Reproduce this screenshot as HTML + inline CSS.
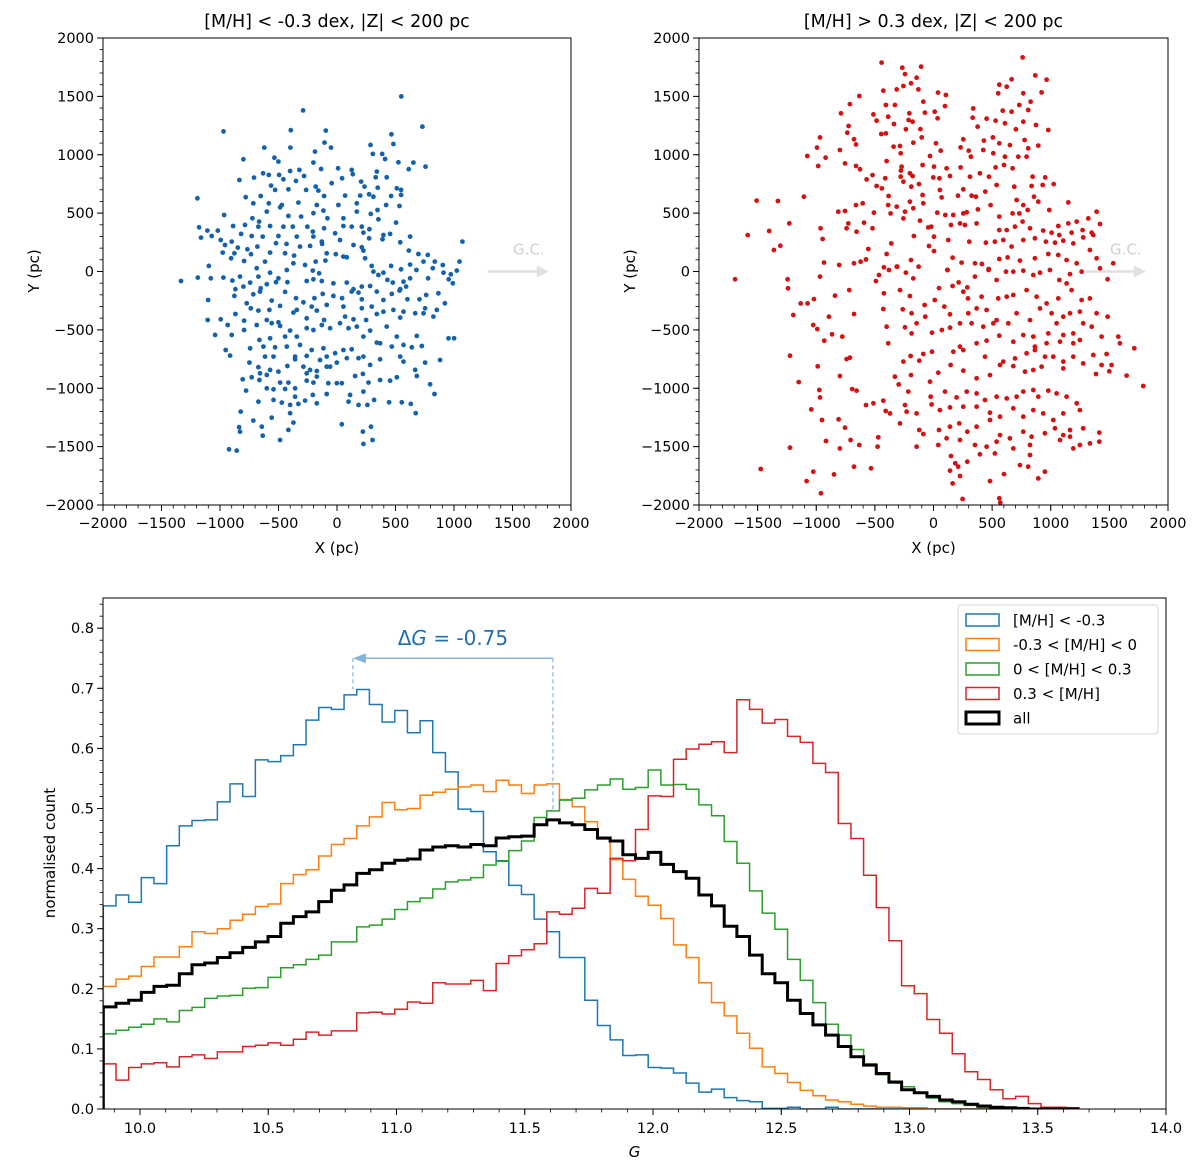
<!DOCTYPE html>
<html><head><meta charset="utf-8"><title>Metallicity maps and G histograms</title>
<style>
html,body{margin:0;padding:0;background:#fff;}
svg{display:block;font-family:"DejaVu Sans","Liberation Sans",sans-serif;}
</style></head>
<body>
<svg id="fig" width="1200" height="1167" viewBox="0 0 1200 1167" xmlns="http://www.w3.org/2000/svg">
<rect width="1200" height="1167" fill="#fff"/>
<g id="p1"></g>
<g id="p2"></g>
<g id="p3"></g>
</svg>
<script>
// ---------- scatter data (X, Y in pc) ----------
const bluePts = [[550,1500],[-290,1380],[730,1240],[-970,1200],[-395,1210],[-96,1207],[465,1175],[-107,1104],[286,1084],[482,1092],[-621,1061],[-398,1061],[-51,1061],[-188,1027],[306,1007],[386,1007],
[-800,961],[-535,975],[-202,933],[411,964],[525,935],[653,933],[756,898],[613,876],[-501,941],[-136,878],[9,884],[126,870],[-321,870],[-401,861],[340,856],
[-834,784],[-709,804],[-632,841],[-583,827],[-495,827],[-458,790],[-350,776],[-281,818],[-45,756],[44,798],[135,833],[206,770],[331,807],[425,807],[-563,736],[-182,727],[235,727],[348,718],[511,713],[548,699],
[-1193,627],[-780,636],[-652,647],[-529,699],[-415,704],[-264,699],[-159,693],[-110,647],[69,650],[198,650],[274,661],[311,641],[462,647],[548,656],[-715,584],[-583,584],[-472,570],[-330,590],[-173,570],[12,570],[169,584],[420,570],[534,561],
[-965,484],[-723,456],[-600,513],[-486,550],[-415,476],[-307,470],[-202,499],[-82,456],[55,456],[169,513],[289,493],[346,527],[505,419],[354,447],[-666,427],[-116,522],
[-1179,379],[-1108,350],[-1019,350],[-888,390],[-786,399],[-672,384],[-572,390],[-458,384],[-378,384],[-253,384],[-207,342],[-110,370],[-16,327],[55,390],[126,384],[212,384],[277,362],[397,313],[454,322],[226,333],[-1071,304],[-1162,290],[-820,322],[-729,304],[-635,299],[-501,304],[-344,299],[-202,299],[-130,256],[26,270],[274,284],[625,299],
[-994,270],[-900,256],[-957,227],[-848,205],[-766,190],[-680,213],[-521,242],[-432,236],[-316,213],[-230,219],[-127,236],[141,227],[212,207],[389,276],[540,250],[1072,256],[-977,162],[-877,156],[-735,148],[-572,162],[-444,156],[-367,136],[-88,156],[-10,148],[55,128],[226,179],[614,179],[696,150],[776,142],
[-905,113],[-794,90],[-615,85],[-373,70],[-273,56],[-182,85],[-99,93],[84,122],[240,113],[297,48],[462,48],[625,59],[739,85],[836,85],[904,56],[1047,85],[-1096,48],[-686,28],[-429,13],[-207,8],[-153,-15],[311,-1],[397,-10],[548,19],[679,13],[819,28],[910,-10],[973,-24],
[-1333,-81],[-1190,-52],[-1079,-58],[-971,-52],[-894,-78],[-829,-44],[-743,-95],[-672,-44],[-572,-10],[-501,-58],[-424,-92],[-259,-81],[-130,-81],[-202,-67],[84,-95],[212,-129],[354,-30],[431,-72],[477,-95],[568,-87],[625,-58],[779,-58],[955,-67],[1024,8],[990,-101],[-868,-152],[-800,-129],[-652,-144],[-600,-109],[-521,-92],[-31,-101],[141,-152],[283,-124],[540,-152],[591,-129],
[-1102,-244],[-877,-209],[-772,-272],[-715,-195],[-658,-172],[-558,-249],[-444,-175],[-350,-229],[-287,-264],[-193,-229],[-122,-192],[-31,-209],[44,-229],[126,-172],[184,-181],[212,-238],[340,-172],[397,-244],[468,-192],[534,-164],[602,-238],[705,-238],[762,-201],[867,-187],[922,-272],[-737,-315],[-578,-329],[-486,-295],[-344,-329],[-216,-301],[-88,-286],[55,-301],[212,-315],[297,-301],[397,-344],[482,-329],[568,-344],[668,-358],[753,-315],[853,-329],
[-1105,-415],[-994,-409],[-868,-364],[-794,-421],[-672,-335],[-600,-415],[-501,-435],[-373,-352],[-259,-401],[-173,-335],[-110,-415],[69,-386],[141,-409],[249,-415],[340,-364],[540,-395],[739,-358],[824,-386],
[-1042,-543],[-934,-458],[-900,-543],[-794,-501],[-686,-458],[-558,-443],[-486,-466],[-401,-506],[-344,-558],[-259,-486],[-202,-501],[-130,-458],[-59,-486],[26,-443],[98,-486],[169,-472],[283,-506],[425,-472],[511,-558],[682,-552],[953,-572],[1001,-572],[-663,-586],[-572,-572],[-444,-558],[226,-558],[340,-609],
[-951,-672],[-914,-720],[-743,-658],[-629,-643],[-529,-649],[-429,-643],[-316,-629],[-216,-672],[-116,-658],[-16,-700],[55,-672],[126,-666],[226,-729],[368,-615],[468,-643],[568,-629],[639,-649],[725,-638],[-615,-729],[-543,-729],[-358,-729],[-259,-723],[-88,-729],[540,-729],[881,-758],
[-749,-780],[-672,-820],[-572,-843],[-501,-857],[-424,-809],[-358,-752],[-287,-815],[-230,-843],[-145,-758],[-59,-815],[-2,-780],[84,-743],[184,-743],[283,-800],[368,-752],[568,-772],[668,-843],[753,-780],[-729,-906],[-658,-872],[-600,-886],[-259,-872],[-173,-852],[-88,-815],
[-806,-923],[-663,-929],[-486,-952],[-415,-952],[-259,-935],[-202,-952],[-173,-900],[-74,-957],[-2,-957],[41,-957],[155,-895],[221,-877],[269,-952],[368,-929],[454,-935],[511,-906],[682,-895],[796,-966],[-777,-1020],[-600,-1000],[-543,-1009],[-444,-1006],[-358,-1000],
[-358,-1072],[-273,-1106],[-207,-1057],[-88,-1049],[112,-1057],[226,-1029],[317,-1100],[445,-1120],[554,-1120],[631,-1134],[833,-1049],[-672,-1115],[-543,-1100],[-472,-1123],[-401,-1143],[-330,-1134],[-173,-1129],[98,-1115],[184,-1143],[260,-1143],
[-823,-1200],[-401,-1214],[673,-1214],[-715,-1277],[-558,-1252],[-373,-1294],[-837,-1334],[-643,-1329],[-415,-1357],[41,-1309],[221,-1372],[291,-1329],[-829,-1372],[-635,-1406],[-486,-1443],[226,-1477],[303,-1443],[-923,-1523],[-857,-1534]];

const redPts = [[760,1834],[-443,1789],[-266,1746],[-106,1754],[-243,1691],[-144,1660],[868,1680],[965,1643],[-192,1612],[-257,1589],[561,1600],[624,1583],[666,1646],
[-428,1549],[-314,1560],[-129,1560],[38,1532],[106,1512],[-633,1503],[-713,1434],[-406,1426],[-329,1426],[-87,1454],[98,1417],[766,1526],[828,1454],[922,1534],[552,1526],[732,1426],[-789,1355],[-513,1346],[-386,1326],[-206,1355],[-73,1360],[10,1369],[339,1397],[590,1377],[666,1369],[808,1383],[-212,1298],
[-724,1246],[-485,1292],[-337,1263],[-178,1283],[35,1312],[-112,1220],[334,1317],[453,1309],[530,1292],[609,1269],[376,1240],[703,1218],[979,1212],[874,1255],[766,1283],[-968,1149],[-735,1189],[-445,1178],[-406,1183],[-235,1218],[-678,1132],[-994,1061],[-1076,989],[-920,975],[-798,1041],[-661,1089],[-340,1069],[-286,1075],[-172,1103],[-101,1149],[21,1098],[254,1132],[300,1035],[430,1121],[507,1149],[561,1098],[652,1083],[777,1126],[808,1055],[894,1078],
[-983,904],[-755,926],[-661,904],[-627,875],[-400,946],[-280,1012],[-272,898],[-30,989],[61,1035],[-93,912],[4,898],[112,884],[231,1063],[319,983],[425,1041],[510,1012],[609,983],[723,983],[794,983],[-571,789],[-520,826],[-412,798],[-278,864],[-201,841],[-280,812],[-257,769],[-178,818],[-124,749],[-2,806],[50,798],[141,818],[231,892],[311,812],[396,841],[473,812],[530,892],[601,912],[675,884],[845,812],[953,806],
[-485,732],[-440,712],[-383,647],[-189,726],[-93,655],[55,698],[254,704],[325,649],[362,641],[442,684],[538,741],[689,726],[837,732],[931,741],[1025,749],[-1105,641],[-1327,604],[-1509,607],[-661,569],[-604,584],[-386,569],[-314,555],[-201,598],[-87,584],[69,635],[209,649],[379,532],[487,569],[709,612],[766,569],[857,641],[894,598],[1150,592],[-812,512],[-755,518],[-508,504],[-366,498],[-243,512],[-172,541],[32,504],[169,484],[254,498],[283,507],[561,470],[675,498],[732,498],[803,527],[988,527],
[-1230,412],[-1401,347],[-1585,312],[-963,370],[-727,412],[-656,341],[-593,418],[-520,370],[-741,370],[-257,455],[-115,435],[-19,384],[101,484],[149,398],[226,412],[268,398],[368,412],[561,355],[624,355],[695,384],[760,427],[823,370],[936,350],[1007,332],[1064,390],[1150,412],[1221,427],[1320,455],[1391,512],[1420,407],[1363,312],[1272,355],[1073,312],[1178,332],[-946,278],[-1307,221],[-1361,184],[-360,241],[-167,304],[-44,378],[4,298],[126,270],[305,255],[447,247],[524,255],[595,270],[666,213],[766,270],[865,284],[959,255],[1036,247],[1107,264],[1192,241],[1277,292],[1349,332],[-38,218],[4,175],
[-934,76],[-804,56],[-678,70],[-622,84],[-576,104],[-556,193],[-400,150],[-192,98],[-314,41],[-127,41],[120,13],[163,118],[240,76],[354,70],[413,64],[470,21],[561,107],[632,121],[737,93],[865,113],[979,150],[1064,141],[1135,98],[1221,70],[1334,184],[1391,113],[1533,70],[-1244,-67],[-968,-44],[-465,-30],[-423,36],[-491,-82],[-380,13],[-309,41],[-235,-10],[-172,-59],[47,-142],[118,13],[163,-124],[214,-93],[288,-136],[354,-44],[470,13],[538,-73],[618,-2],[681,-2],[766,7],[851,-30],[908,-10],[993,13],[1073,-73],[1164,-22],[1263,-2],[1420,27],[1485,-67],
[-1241,-144],[-1133,-273],[-1074,-273],[-1020,-236],[-840,-207],[-718,-159],[-423,-187],[-286,-159],[-201,-210],[10,-244],[-76,-287],[92,-301],[254,-173],[294,-230],[410,-216],[552,-230],[624,-216],[681,-201],[794,-159],[879,-216],[965,-273],[1064,-230],[1135,-102],[1178,-159],[1263,-244],[1334,-230],[-1196,-373],[-892,-387],[-678,-364],[-428,-321],[-263,-324],[-187,-358],[-70,-387],[141,-367],[297,-358],[368,-316],[453,-330],[538,-416],[709,-358],[823,-416],[908,-316],[1007,-358],[1107,-387],[1164,-358],[1249,-344],[1391,-358],[1485,-387],
[-1025,-458],[-991,-493],[-866,-538],[-778,-558],[-400,-473],[-243,-478],[-144,-444],[-13,-524],[72,-501],[141,-481],[226,-444],[325,-444],[425,-473],[510,-444],[561,-550],[638,-444],[766,-544],[851,-558],[979,-530],[1050,-444],[1107,-544],[1192,-530],[1277,-444],[1349,-473],[1434,-558],[1576,-558],[-931,-593],[-386,-615],[-187,-530],[368,-615],[453,-593],[681,-601],[865,-644],[965,-615],[1079,-601],[1192,-615],[1249,-587],[1590,-615],[1713,-658],
[-1224,-721],[-741,-750],[-713,-738],[-257,-772],[-195,-724],[-87,-707],[-13,-687],[-121,-764],[169,-687],[226,-644],[254,-673],[439,-730],[595,-772],[695,-744],[794,-701],[865,-673],[951,-730],[1022,-730],[1107,-772],[1192,-730],[1277,-787],[1363,-715],[1476,-707],[1434,-801],[1519,-801],[-988,-812],[-1150,-947],[-798,-895],[-329,-901],[-192,-887],[41,-867],[146,-801],[254,-850],[368,-915],[482,-887],[567,-801],[681,-810],[780,-858],[851,-844],[922,-815],[1107,-830],[1386,-878],[1499,-855],[1647,-892],[1789,-981],[-30,-944],
[-974,-1015],[-968,-1078],[-693,-1007],[-656,-1021],[-297,-967],[-215,-1029],[-24,-1072],[98,-1029],[197,-1078],[283,-1029],[368,-1044],[439,-1101],[538,-1072],[624,-1087],[709,-1072],[766,-1029],[851,-1015],[894,-1072],[979,-1021],[1050,-1044],[1135,-1072],[1221,-1129],[-1042,-1181],[-951,-1272],[-809,-1266],[-576,-1144],[-513,-1129],[-428,-1107],[-243,-1144],[-229,-1201],[-408,-1195],[-371,-1215],[-144,-1215],[-16,-1138],[55,-1187],[141,-1164],[254,-1158],[368,-1158],[482,-1209],[567,-1244],[681,-1172],[766,-1244],[851,-1187],[936,-1215],[1022,-1272],[1107,-1215],[1249,-1187],
[-755,-1338],[-707,-1443],[-633,-1486],[-471,-1420],[-286,-1301],[-121,-1358],[-87,-1392],[47,-1358],[141,-1329],[220,-1301],[288,-1372],[368,-1329],[482,-1272],[567,-1401],[652,-1429],[766,-1372],[837,-1415],[950,-1386],[1036,-1343],[1107,-1401],[1164,-1358],[1277,-1343],[1414,-1380],[-917,-1452],[-798,-1515],[-477,-1501],[-144,-1501],[41,-1486],[112,-1429],[226,-1443],[354,-1486],[453,-1501],[538,-1458],[681,-1515],[823,-1486],[1079,-1443],[1164,-1415],[1249,-1486],[1334,-1472],[1414,-1458],[1192,-1515],[-1224,-1509],
[-1474,-1692],[-1082,-1795],[-1025,-1715],[-960,-1900],[-849,-1738],[-678,-1672],[-533,-1686],[149,-1580],[186,-1643],[141,-1706],[211,-1672],[226,-1752],[163,-1815],[288,-1629],[396,-1566],[482,-1795],[524,-1558],[601,-1735],[737,-1658],[808,-1672],[823,-1572],[894,-1772],[950,-1715],[248,-1949],[561,-1943],[570,-1980],[-1692,-67]];

const mapTicks = [-2000,-1500,-1000,-500,0,500,1000,1500,2000];

// ---------- histogram data ----------
const binStart = 9.857;
const binWidth = 0.0494;
const histBlue = [0.338,0.356,0.344,0.385,0.375,0.438,0.471,0.480,0.481,0.511,0.541,0.520,0.581,0.578,0.588,0.606,0.647,0.668,0.665,0.689,0.698,0.673,0.644,0.663,0.626,0.646,0.593,0.561,0.499,0.495,0.428,0.413,0.372,0.357,0.316,0.295,0.252,0.252,0.181,0.139,0.115,0.089,0.090,0.069,0.068,0.060,0.043,0.028,0.033,0.019,0.014,0.012,0.001,0.001,0.003,0,0,0.003,0,0,0,0,0,0,0,0,0,0,0,0,0,0,0,0,0,0,0];
const histOrange = [0.204,0.216,0.221,0.237,0.253,0.253,0.270,0.295,0.292,0.300,0.314,0.324,0.337,0.341,0.375,0.390,0.398,0.421,0.440,0.450,0.471,0.486,0.510,0.498,0.500,0.522,0.527,0.532,0.536,0.539,0.528,0.547,0.539,0.525,0.539,0.541,0.515,0.503,0.478,0.449,0.415,0.382,0.354,0.339,0.317,0.273,0.252,0.210,0.177,0.155,0.126,0.101,0.070,0.059,0.044,0.031,0.022,0.015,0.012,0.008,0.005,0.003,0.003,0.002,0.002,0,0,0,0,0,0,0,0,0,0,0,0];
const histGreen = [0.125,0.131,0.136,0.141,0.150,0.145,0.164,0.169,0.184,0.188,0.189,0.201,0.202,0.219,0.235,0.240,0.249,0.256,0.278,0.278,0.303,0.306,0.316,0.332,0.345,0.351,0.366,0.378,0.381,0.385,0.406,0.412,0.430,0.446,0.485,0.496,0.514,0.517,0.531,0.539,0.549,0.532,0.535,0.564,0.539,0.540,0.532,0.506,0.488,0.445,0.409,0.363,0.326,0.299,0.249,0.214,0.177,0.141,0.123,0.099,0.075,0.057,0.043,0.037,0.027,0.018,0.012,0.009,0.006,0.003,0.001,0,0,0,0,0,0];
const histRed = [0.075,0.048,0.069,0.075,0.077,0.070,0.087,0.090,0.084,0.095,0.095,0.104,0.106,0.110,0.106,0.116,0.128,0.123,0.130,0.130,0.160,0.161,0.158,0.166,0.178,0.176,0.210,0.208,0.208,0.214,0.197,0.242,0.255,0.265,0.275,0.328,0.324,0.334,0.367,0.359,0.417,0.413,0.465,0.521,0.520,0.582,0.599,0.607,0.611,0.593,0.681,0.665,0.642,0.648,0.620,0.610,0.575,0.560,0.475,0.450,0.389,0.335,0.280,0.205,0.192,0.149,0.126,0.092,0.062,0.049,0.032,0.017,0.021,0.009,0.003,0.003,0.002];
const histAll = [0.170,0.176,0.181,0.194,0.204,0.206,0.225,0.240,0.243,0.252,0.260,0.269,0.278,0.287,0.309,0.320,0.328,0.345,0.364,0.373,0.392,0.398,0.409,0.414,0.416,0.431,0.436,0.438,0.436,0.440,0.438,0.451,0.453,0.454,0.473,0.481,0.476,0.473,0.465,0.451,0.446,0.423,0.417,0.427,0.407,0.395,0.384,0.356,0.338,0.304,0.287,0.256,0.225,0.210,0.181,0.159,0.140,0.123,0.104,0.087,0.073,0.059,0.045,0.032,0.027,0.021,0.015,0.012,0.008,0.005,0.003,0.002,0.001,0,0,0,0];
const histLabels = ["[M/H] < -0.3","-0.3 < [M/H] < 0","0 < [M/H] < 0.3","0.3 < [M/H]","all"];
const gTicks = [10.0,10.5,11.0,11.5,12.0,12.5,13.0,13.5,14.0];
const countTicks = [0.0,0.1,0.2,0.3,0.4,0.5,0.6,0.7,0.8];
const deltaFrom = 11.61;
const deltaTo = 10.83;
const deltaLevel = 0.75;

// ---------- helpers ----------
const NS = "http://www.w3.org/2000/svg";
function mk(parent, tag, attrs, text){
  const e = document.createElementNS(NS, tag);
  for (const k in attrs) e.setAttribute(k, attrs[k]);
  if (text !== undefined) e.textContent = text;
  parent.appendChild(e);
  return e;
}
function fmtMinus(v){ return String(v).replace("-", "\u2212"); }

// ---------- scatter panels ----------
function mapPanel(g, left, right, pts, color, title, prefix){
  const top = 38, bottom = 505;
  const sx = X => left + (X + 2000) / 4000 * (right - left);
  const sy = Y => top + (2000 - Y) / 4000 * (bottom - top);
  const ax = sx(1290), ay = sy(0), tip = sx(1810);
  const gc = mk(g, "g", {});
  
  
  mk(gc, "line", {x1: ax, y1: ay, x2: tip - 11, y2: ay, stroke: "#e0e0e0", "stroke-width": 2.5});
  mk(gc, "polygon", {points: `${tip},${ay} ${tip-12},${ay-6} ${tip-12},${ay+6}`, fill: "#e0e0e0"});
  const gct = mk(gc, "text", {x: sx(1640), y: ay - 17, "text-anchor": "middle", "font-size": 15, fill: "#cfcfcf"}, "G.C.");
  
  
  const pg = mk(g, "g", {fill: color});
  
  
  pts.forEach(p => {
    const c = mk(pg, "circle", {cx: sx(p[0]).toFixed(1), cy: sy(p[1]).toFixed(1), r: 2.4});
    
    
  });
  const fr = mk(g, "rect", {x: left, y: top, width: right - left, height: bottom - top, fill: "none", stroke: "#000", "stroke-width": 1});
  
  
  for (let v = -2000; v <= 2000; v += 100) {
    mk(g, "line", {x1: sx(v), y1: bottom, x2: sx(v), y2: bottom + 3.5, stroke: "#000", "stroke-width": 0.8});
    mk(g, "line", {x1: left, y1: sy(v), x2: left - 3.5, y2: sy(v), stroke: "#000", "stroke-width": 0.8});
  }
  mapTicks.forEach(v => {
    mk(g, "line", {x1: sx(v), y1: bottom, x2: sx(v), y2: bottom + 6, stroke: "#000", "stroke-width": 1});
    mk(g, "line", {x1: left, y1: sy(v), x2: left - 6, y2: sy(v), stroke: "#000", "stroke-width": 1});
    const tx = mk(g, "text", {x: sx(v), y: bottom + 23, "text-anchor": "middle", "font-size": 14.5}, fmtMinus(v));
    
    
    const ty = mk(g, "text", {x: left - 9, y: sy(v) + 5, "text-anchor": "end", "font-size": 14.5}, fmtMinus(v));
    
    
  });
  const xl = mk(g, "text", {x: (left + right) / 2, y: 553, "text-anchor": "middle", "font-size": 15}, "X (pc)");
  
  
  const yx = left - 64;
  const yl = mk(g, "text", {x: yx, y: 271, "text-anchor": "middle", "font-size": 15, transform: `rotate(-90 ${yx} 271)`}, "Y (pc)");
  
  
  const tt = mk(g, "text", {x: (left + right) / 2, y: 27, "text-anchor": "middle", "font-size": 17.5}, title);
  
  
}
mapPanel(document.getElementById("p1"), 103, 571, bluePts, "#1462ab", "[M/H] < -0.3 dex, |Z| < 200 pc", "metal-poor");
mapPanel(document.getElementById("p2"), 699, 1168, redPts, "#d41212", "[M/H] > 0.3 dex, |Z| < 200 pc", "metal-rich");

// ---------- histogram panel ----------
(function(){
  const g = document.getElementById("p3");
  const left = 103, right = 1166, top = 598, bottom = 1109;
  const gx = G => 140 + (G - 10) * 256.5;
  const gy = v => bottom - v * 601;
  const clip = mk(g, "clipPath", {id: "hclip"});
  mk(clip, "rect", {x: left, y: top, width: right - left, height: bottom - top});
  function stepPath(vals){
    let d = `M${gx(binStart).toFixed(2)},${gy(0)}`;
    vals.forEach((v, i) => {
      const x0 = gx(binStart + i * binWidth), x1 = gx(binStart + (i + 1) * binWidth);
      d += ` L${x0.toFixed(2)},${gy(v).toFixed(2)} L${x1.toFixed(2)},${gy(v).toFixed(2)}`;
    });
    d += ` L${gx(binStart + vals.length * binWidth).toFixed(2)},${gy(0)}`;
    return d;
  }
  const series = [
    [histBlue, "#1f77b4", 1.5, "hist-metal-poor"],
    [histOrange, "#ff7f0e", 1.5, "hist-intermediate-poor"],
    [histGreen, "#2ca02c", 1.5, "hist-intermediate-rich"],
    [histRed, "#d62728", 1.5, "hist-metal-rich"],
    [histAll, "#000000", 3, "hist-all"]
  ];
  const hg = mk(g, "g", {"clip-path": "url(#hclip)"});
  series.forEach(s => {
    const p = mk(hg, "path", {d: stepPath(s[0]), fill: "none", stroke: s[1], "stroke-width": s[2], "stroke-linejoin": "miter"});
    
    
  });
  const ac = "#86b3dc";
  const ann = mk(g, "g", {});
  
  
  const yA = gy(deltaLevel);
  mk(ann, "line", {x1: gx(deltaFrom), y1: yA, x2: gx(deltaTo) + 10, y2: yA, stroke: ac, "stroke-width": 1.6});
  mk(ann, "polygon", {points: `${gx(deltaTo)},${yA} ${gx(deltaTo)+13},${yA-5} ${gx(deltaTo)+13},${yA+5}`, fill: ac});
  mk(ann, "line", {x1: gx(deltaTo), y1: yA, x2: gx(deltaTo), y2: gy(0.698), stroke: ac, "stroke-width": 1.2, "stroke-dasharray": "4,3"});
  mk(ann, "line", {x1: gx(deltaFrom), y1: yA, x2: gx(deltaFrom), y2: gy(0.498), stroke: ac, "stroke-width": 1.2, "stroke-dasharray": "4,3"});
  const at = mk(ann, "text", {x: gx((deltaFrom + deltaTo) / 2), y: 645, "text-anchor": "middle", "font-size": 20, fill: "#1f6fb2"});
  
  
  mk(at, "tspan", {}, "\u0394");
  mk(at, "tspan", {"font-style": "italic"}, "G");
  mk(at, "tspan", {}, " = -0.75");
  const fr = mk(g, "rect", {x: left, y: top, width: right - left, height: bottom - top, fill: "none", stroke: "#000", "stroke-width": 1});
  
  
  for (let G = 9.9; G <= 14.0001; G += 0.1) {
    mk(g, "line", {x1: gx(G), y1: bottom, x2: gx(G), y2: bottom + 3.5, stroke: "#000", "stroke-width": 0.8});
  }
  for (let v = 0; v <= 0.8501; v += 0.02) {
    mk(g, "line", {x1: left, y1: gy(v), x2: left - 3.5, y2: gy(v), stroke: "#000", "stroke-width": 0.8});
  }
  gTicks.forEach(G => {
    mk(g, "line", {x1: gx(G), y1: bottom, x2: gx(G), y2: bottom + 6, stroke: "#000", "stroke-width": 1});
    const t = mk(g, "text", {x: gx(G), y: bottom + 24, "text-anchor": "middle", "font-size": 14.5}, G.toFixed(1));
    
    
  });
  countTicks.forEach(v => {
    mk(g, "line", {x1: left, y1: gy(v), x2: left - 6, y2: gy(v), stroke: "#000", "stroke-width": 1});
    const t = mk(g, "text", {x: left - 9, y: gy(v) + 5, "text-anchor": "end", "font-size": 14.5}, v.toFixed(1));
    
    
  });
  const xl = mk(g, "text", {x: (left + right) / 2, y: 1157, "text-anchor": "middle", "font-size": 15, "font-style": "italic"}, "G");
  
  
  const yl = mk(g, "text", {x: 55, y: 853, "text-anchor": "middle", "font-size": 15, transform: "rotate(-90 55 853)"}, "normalised count");
  
  
  const lg = mk(g, "g", {});
  
  
  mk(lg, "rect", {x: 958, y: 605, width: 200, height: 129, rx: 3, fill: "#fff", "fill-opacity": 0.8, stroke: "#d6d6d6", "stroke-width": 1});
  series.forEach((s, i) => {
    const cy = 620 + i * 24.5;
    const e = mk(lg, "g", {});
    
    
    mk(e, "rect", {x: 966, y: cy - 6, width: 33, height: 12, fill: "none", stroke: s[1], "stroke-width": s[2]});
    mk(e, "text", {x: 1013, y: cy + 5.5, "font-size": 15}, histLabels[i]);
  });
})();
</script>
</body></html>
